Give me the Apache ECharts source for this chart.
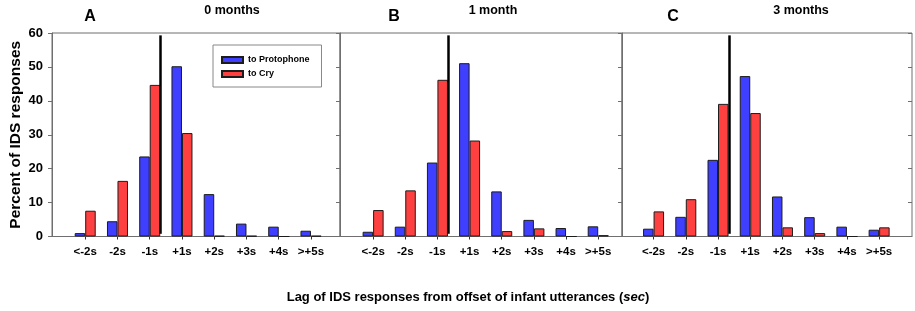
<meta charset="utf-8">
<script src="https://cdn.jsdelivr.net/npm/echarts/dist/echarts.min.js"></script>
<div id="main" style="position:absolute;left:0;top:0;width:915px;height:311px;"></div>

<script type="text/javascript">
const lags=['<-2s','-2s','-1s','+1s','+2s','+3s','+4s','>+5s']
const panels=['A','B','C']
const ages=['0 months','1 month','3 months']
// percent of IDS responses
const protoA=[1.0,4.5,23.6,50.2,12.5,3.8,2.9,1.7]
const cryA=[7.6,16.4,44.7,30.5,0.2,0.2,0,0.2]
const protoB=[1.4,2.9,21.8,51.1,13.3,4.9,2.5,3.0]
const cryB=[7.8,13.6,46.2,28.3,1.6,2.4,0,0.4]
const protoC=[2.3,5.8,22.6,47.3,11.8,5.7,2.9,2.0]
const cryC=[7.4,11.0,39.1,36.4,2.7,1.0,0,2.7]
const yTicks=[0,10,20,30,40,50,60]

const proto=[protoA,protoB,protoC], cry=[cryA,cryB,cryC]
const F='"Liberation Sans", Arial, sans-serif'
const box=[[52,288,-1.03,7.9],[340,282,-1.03,7.74],[622,290,-0.98,8.02]]
const frame='#6f6f6f'

let myChart=echarts.init(main)
const grid=[],xAxis=[],yAxis=[],series=[],title=[]
box.forEach(([left,width,mn,mx],i)=>{
  grid.push({left:left,width:width,top:33,height:203.5,show:true,borderColor:frame,borderWidth:1,
    backgroundColor:'#fff',containLabel:false,outerBoundsMode:'none'})
  xAxis.push({type:'value',gridIndex:i,min:mn,max:mx,splitLine:{show:false},
    axisLine:{onZero:false,lineStyle:{color:frame}},
    axisTick:{customValues:[0,1,2,3,4,5,6,7],length:3,lineStyle:{color:'#333'}},
    axisLabel:{customValues:[0,1,2,3,4,5,6,7],formatter:v=>lags[v],margin:9,
      fontFamily:F,fontSize:11.5,fontWeight:'bold',color:'#000'}})
  yAxis.push({type:'value',gridIndex:i,min:0,max:60,interval:10,splitLine:{show:false},
    axisLine:{show:true,onZero:false,lineStyle:{color:frame}},
    axisTick:{show:i===0,length:4,lineStyle:{color:frame}},
    axisLabel:{show:i===0,customValues:yTicks,fontFamily:F,fontSize:13,fontWeight:'bold',color:'#000',margin:9},
    name:i===0?'Percent of IDS responses':'',nameLocation:'middle',nameGap:28,
    nameTextStyle:{fontFamily:F,fontSize:15.5,fontWeight:'bold',color:'#000'}})
  yAxis.push({type:'value',gridIndex:i,position:'right',min:0,max:60,interval:10,splitLine:{show:false},
    axisLine:{show:false,onZero:false},axisLabel:{show:false},
    axisTick:{inside:true,length:4,lineStyle:{color:frame}}})
  series.push({name:'to Protophone',type:'bar',xAxisIndex:i,yAxisIndex:i*2,barWidth:10.5,barGap:'0%',
    itemStyle:{color:'#3f3fff',borderColor:'#1c1c1c',borderWidth:1},
    data:proto[i].map((v,k)=>[k,v]),
    markLine:{silent:true,symbol:'none',label:{show:false},lineStyle:{color:'#000',width:2.5,type:'solid'},
      data:[[{coord:[2.5,0.8]},{coord:[2.5,59.3]}]]}})
  series.push({name:'to Cry',type:'bar',xAxisIndex:i,yAxisIndex:i*2,barWidth:10.5,barGap:'0%',
    itemStyle:{color:'#ff4040',borderColor:'#1c1c1c',borderWidth:1},
    data:cry[i].map((v,k)=>[k,v])})
})
const lx=[85,389,668], mx=[227,488,796]
panels.forEach((p,i)=>{
  title.push({text:p,left:lx[i],top:4,textAlign:'center',textStyle:{fontFamily:F,fontSize:16,fontWeight:'bold',color:'#000'}})
  title.push({text:ages[i],left:mx[i],top:-1,textAlign:'center',textStyle:{fontFamily:F,fontSize:12.5,fontWeight:'bold',color:'#000'}})
})
title.push({text:'{b|Lag of IDS responses from offset of infant utterances (}{i|sec}{b|)}',left:463,top:286,textAlign:'center',
  textStyle:{rich:{b:{fontFamily:F,fontSize:13,fontWeight:'bold',color:'#000'},i:{fontFamily:F,fontSize:13,fontWeight:'bold',fontStyle:'italic',color:'#000'}}}})

myChart.setOption({
  backgroundColor:'#fff',
  animation:false,
  title:title,
  legend:{data:['to Protophone','to Cry'],orient:'vertical',left:213,top:45,
    icon:'rect',itemWidth:21,itemHeight:6,itemGap:4,padding:[10,12,8,8],
    borderColor:'#888',borderWidth:1,backgroundColor:'#fff',
    textStyle:{fontFamily:F,fontSize:9,lineHeight:10,fontWeight:'bold',color:'#000'}},
  grid:grid,xAxis:xAxis,yAxis:yAxis,series:series
})
</script>
